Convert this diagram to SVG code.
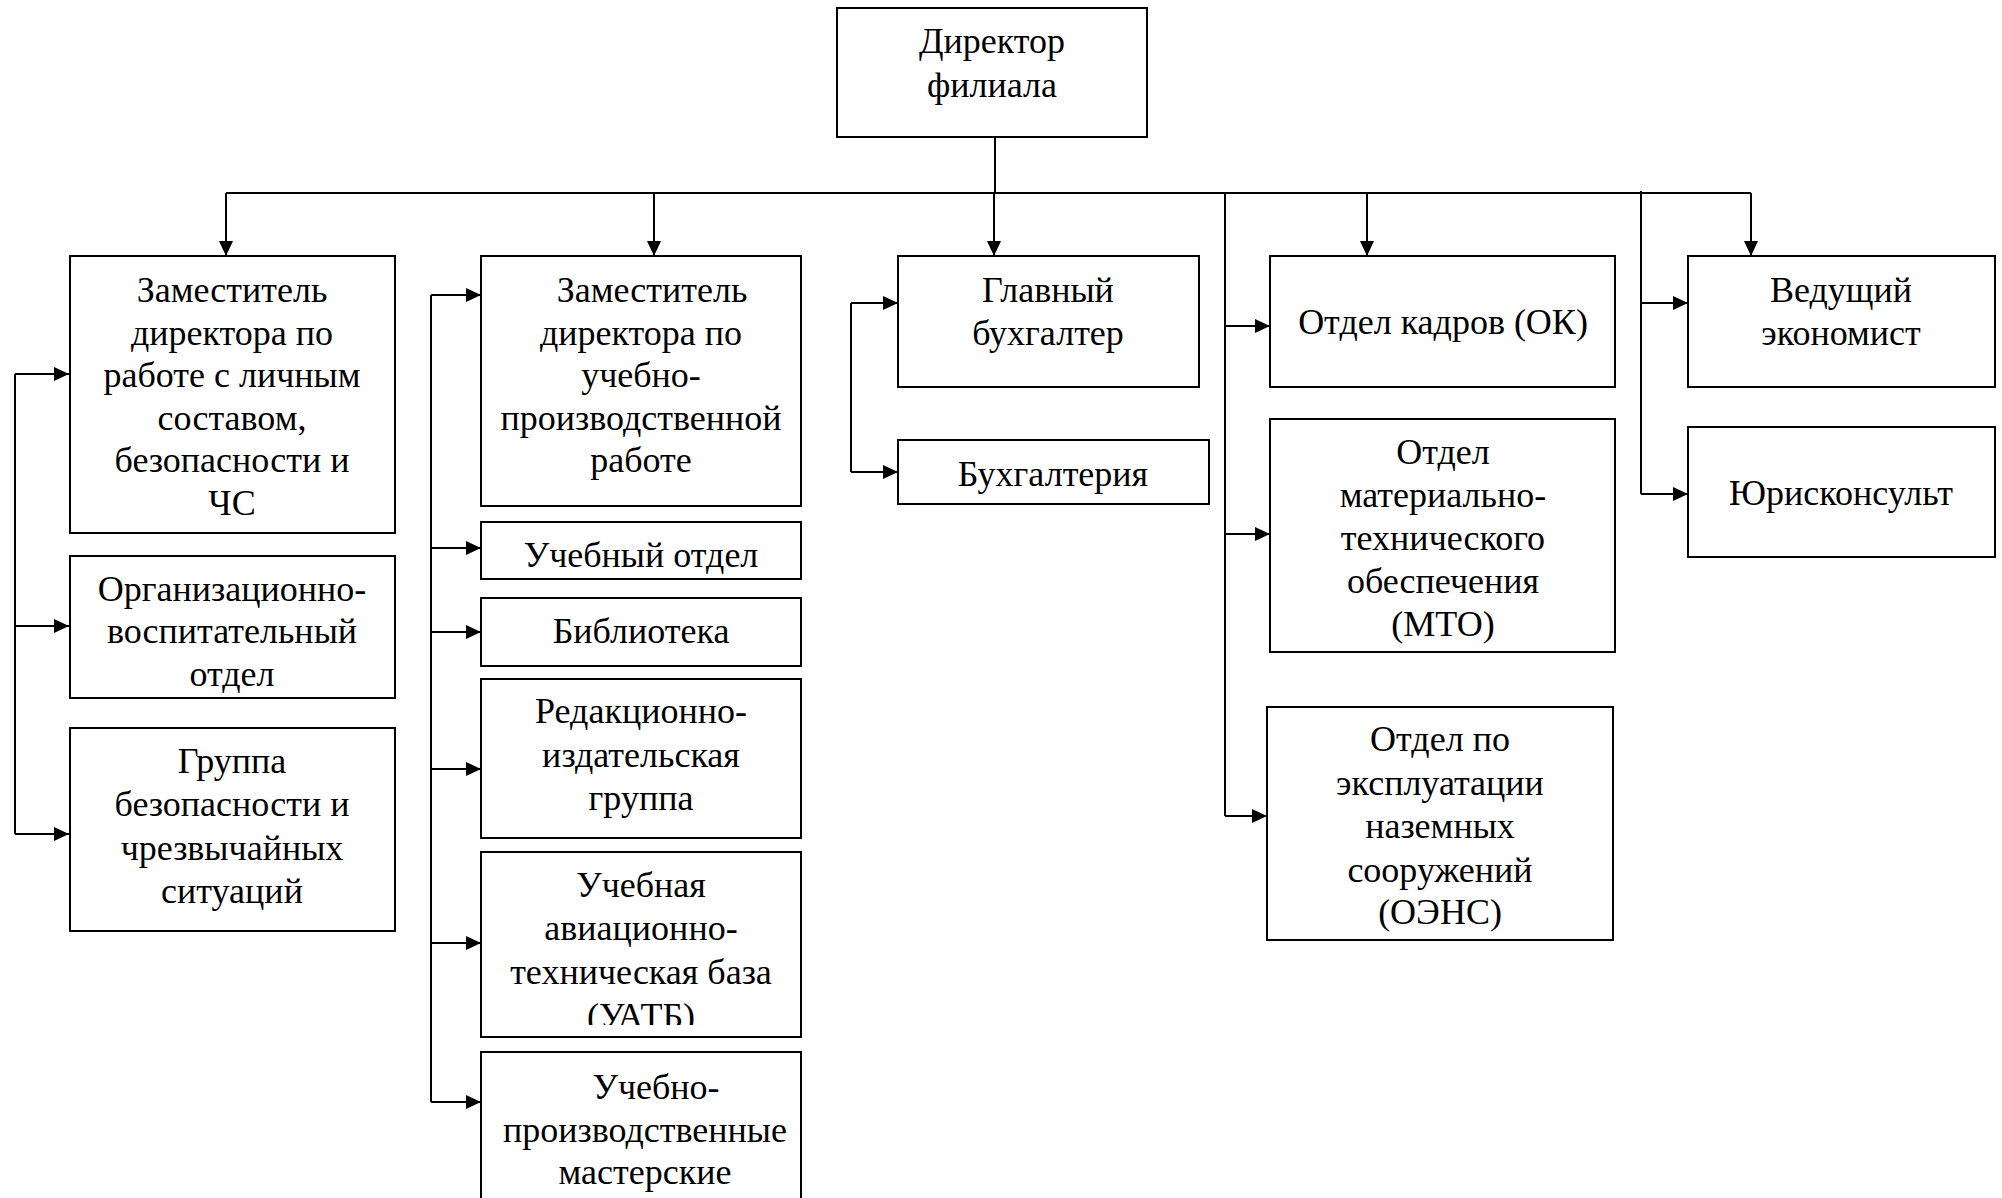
<svg xmlns="http://www.w3.org/2000/svg" width="2002" height="1198" viewBox="0 0 2002 1198">
<style>
.box{fill:#fff;stroke:#000;stroke-width:2}
.t{font-family:"Liberation Serif","Times New Roman",serif;font-size:36px;fill:#000;text-anchor:middle}
.c{fill:none;stroke:#000;stroke-width:2}
.a{marker-end:url(#ah)}
</style>
<defs>
<marker id="ah" markerUnits="userSpaceOnUse" markerWidth="16" markerHeight="14" refX="15" refY="7" orient="auto">
<path d="M0,0 L15,7 L0,14 z" fill="#000"/>
</marker>
<clipPath id="clipUATB"><rect x="481" y="852" width="320" height="173"/></clipPath>
</defs>
<rect width="2002" height="1198" fill="#fff"/>

<g id="connectors">
<path class="c" d="M995,137 V193"/>
<path class="c" d="M226,193 H1751"/>
<path class="c a" d="M226,193 V256"/>
<path class="c a" d="M654,193 V256"/>
<path class="c a" d="M994,193 V256"/>
<path class="c a" d="M1367,193 V256"/>
<path class="c a" d="M1751,193 V256"/>
<path class="c" d="M15,374 V834"/>
<path class="c a" d="M15,374 H69"/>
<path class="c a" d="M15,626 H69"/>
<path class="c a" d="M15,834 H69"/>
<path class="c" d="M431,295 V1102"/>
<path class="c a" d="M431,295 H481"/>
<path class="c a" d="M431,548 H481"/>
<path class="c a" d="M431,632 H481"/>
<path class="c a" d="M431,769 H481"/>
<path class="c a" d="M431,943 H481"/>
<path class="c a" d="M431,1102 H481"/>
<path class="c" d="M851,303 V472"/>
<path class="c a" d="M851,303 H898"/>
<path class="c a" d="M851,472 H898"/>
<path class="c" d="M1225,193 V816"/>
<path class="c a" d="M1225,326 H1270"/>
<path class="c a" d="M1225,534 H1270"/>
<path class="c a" d="M1225,816 H1267"/>
<path class="c" d="M1641,191 V494"/>
<path class="c a" d="M1641,303 H1688"/>
<path class="c a" d="M1641,494 H1688"/>
</g>

<g id="director">
<rect class="box" x="837" y="8" width="310" height="129"/>
<text class="t" x="992" y="53">Директор</text>
<text class="t" x="992" y="97">филиала</text>
</g>

<g id="dep-personnel">
<rect class="box" x="70" y="256" width="325" height="277"/>
<text class="t" x="232" y="302">Заместитель</text>
<text class="t" x="232" y="345">директора по</text>
<text class="t" x="232" y="387">работе с личным</text>
<text class="t" x="232" y="430">составом,</text>
<text class="t" x="232" y="472">безопасности и</text>
<text class="t" x="232" y="515">ЧС</text>
</g>

<g id="org-vosp">
<rect class="box" x="70" y="556" width="325" height="142"/>
<text class="t" x="232" y="601">Организационно-</text>
<text class="t" x="232" y="643">воспитательный</text>
<text class="t" x="232" y="686">отдел</text>
</g>

<g id="gr-bez">
<rect class="box" x="70" y="728" width="325" height="203"/>
<text class="t" x="232" y="773">Группа</text>
<text class="t" x="232" y="816">безопасности и</text>
<text class="t" x="232" y="860">чрезвычайных</text>
<text class="t" x="232" y="903">ситуаций</text>
</g>

<g id="dep-ucheb">
<rect class="box" x="481" y="256" width="320" height="250"/>
<text class="t" x="652" y="302">Заместитель</text>
<text class="t" x="641" y="345">директора по</text>
<text class="t" x="641" y="387">учебно-</text>
<text class="t" x="641" y="430">производственной</text>
<text class="t" x="641" y="472">работе</text>
</g>

<g id="ucheb-otdel">
<rect class="box" x="481" y="522" width="320" height="57"/>
<text class="t" x="641" y="567">Учебный отдел</text>
</g>

<g id="biblioteka">
<rect class="box" x="481" y="598" width="320" height="68"/>
<text class="t" x="641" y="643">Библиотека</text>
</g>

<g id="redakc">
<rect class="box" x="481" y="679" width="320" height="159"/>
<text class="t" x="641" y="723">Редакционно-</text>
<text class="t" x="641" y="767">издательская</text>
<text class="t" x="641" y="810">группа</text>
</g>

<g id="uatb">
<rect class="box" x="481" y="852" width="320" height="185"/>
<g clip-path="url(#clipUATB)">
<text class="t" x="641" y="897">Учебная</text>
<text class="t" x="641" y="940">авиационно-</text>
<text class="t" x="641" y="984">техническая база</text>
<text class="t" x="641" y="1028">(УАТБ)</text>
</g>
</g>

<g id="masterskie">
<rect class="box" x="481" y="1052" width="320" height="160"/>
<text class="t" x="656" y="1099">Учебно-</text>
<text class="t" x="645" y="1142">производственные</text>
<text class="t" x="645" y="1184">мастерские</text>
</g>

<g id="gl-buh">
<rect class="box" x="898" y="256" width="301" height="131"/>
<text class="t" x="1048" y="302">Главный</text>
<text class="t" x="1048" y="345">бухгалтер</text>
</g>

<g id="buhgalteria">
<rect class="box" x="898" y="440" width="311" height="64"/>
<text class="t" x="1053" y="486">Бухгалтерия</text>
</g>

<g id="ok">
<rect class="box" x="1270" y="256" width="345" height="131"/>
<text class="t" x="1443" y="334">Отдел кадров (ОК)</text>
</g>

<g id="mto">
<rect class="box" x="1270" y="419" width="345" height="233"/>
<text class="t" x="1443" y="464">Отдел</text>
<text class="t" x="1443" y="507">материально-</text>
<text class="t" x="1443" y="550">технического</text>
<text class="t" x="1443" y="593">обеспечения</text>
<text class="t" x="1443" y="636">(МТО)</text>
</g>

<g id="oens">
<rect class="box" x="1267" y="707" width="346" height="233"/>
<text class="t" x="1440" y="751">Отдел по</text>
<text class="t" x="1440" y="795">эксплуатации</text>
<text class="t" x="1440" y="838">наземных</text>
<text class="t" x="1440" y="882">сооружений</text>
<text class="t" x="1440" y="924">(ОЭНС)</text>
</g>

<g id="ved-ekon">
<rect class="box" x="1688" y="256" width="307" height="131"/>
<text class="t" x="1841" y="302">Ведущий</text>
<text class="t" x="1841" y="345">экономист</text>
</g>

<g id="yurist">
<rect class="box" x="1688" y="427" width="307" height="130"/>
<text class="t" x="1841" y="505">Юрисконсульт</text>
</g>
</svg>
